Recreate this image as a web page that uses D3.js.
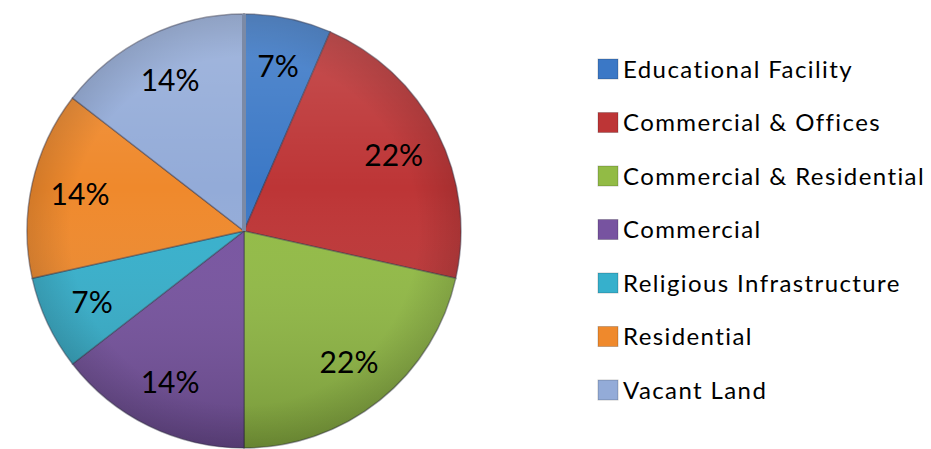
<!DOCTYPE html>
<html>
<head>
  <meta charset="utf-8">
  <title>Land use pie</title>
  <script src="https://d3js.org/d3.v7.min.js"></script>
  <style>
    body { margin: 0; background: #fff; }
    svg text { font-family: Lato, "Open Sans", sans-serif; font-variant-ligatures: none; }
  </style>
</head>
<body>
  <svg id="grafico"></svg>

  <script>
    // categories, shares and printed labels
    const categorias = [
      "Educational Facility",
      "Commercial & Offices",
      "Commercial & Residential",
      "Commercial",
      "Religious Infrastructure",
      "Residential",
      "Vacant Land"
    ];
    const valores = [6.5, 22, 21.5, 14.5, 7, 14, 14.5];
    const etiquetas = ["7%", "22%", "22%", "14%", "7%", "14%", "14%"];
    const colores = ["#3b78c6", "#bd3536", "#92bb45", "#7753a0", "#36b0cc", "#ef892c", "#93abd8"];

    const ancho = 931, alto = 449;
    const cx = 244, cy = 231, radio = 217;

    const svg = d3.select("#grafico")
      .attr("width", ancho)
      .attr("height", alto);

    const defs = svg.append("defs");
    const sombra = defs.append("linearGradient")
      .attr("id", "sombra")
      .attr("x1", 0).attr("y1", 0).attr("x2", 0).attr("y2", 1);
    sombra.append("stop").attr("offset", "0%").attr("stop-color", "#fff").attr("stop-opacity", 0.15);
    sombra.append("stop").attr("offset", "40%").attr("stop-color", "#fff").attr("stop-opacity", 0);
    sombra.append("stop").attr("offset", "100%").attr("stop-color", "#000").attr("stop-opacity", 0.2);

    const borde = defs.append("radialGradient").attr("id", "borde");
    borde.append("stop").attr("offset", "80%").attr("stop-color", "#000").attr("stop-opacity", 0);
    borde.append("stop").attr("offset", "100%").attr("stop-color", "#000").attr("stop-opacity", 0.12);

    const pie = d3.pie().sort(null).value(d => d)(valores);
    const arco = d3.arc().innerRadius(0).outerRadius(radio);
    const arcoEtiqueta = d3.arc().innerRadius(168).outerRadius(168);

    const g = svg.append("g").attr("transform", `translate(${cx},${cy})`);

    g.selectAll(".porcion")
      .data(pie)
      .enter()
      .append("path")
      .attr("class", "porcion")
      .attr("d", arco)
      .style("fill", (d, i) => colores[i])
      .style("stroke", "rgba(50,50,70,0.45)")
      .style("stroke-width", 1.5);

    g.append("circle").attr("r", radio).style("fill", "url(#sombra)");
    g.append("circle").attr("r", radio).style("fill", "url(#borde)");

    // grey seam at 12 o'clock
    g.append("line")
      .attr("x1", 0).attr("y1", 0)
      .attr("x2", 0).attr("y2", -radio)
      .style("stroke", "#7b8aa6")
      .style("stroke-width", 4);

    g.selectAll(".etiqueta")
      .data(pie)
      .enter()
      .append("text")
      .attr("class", "etiqueta")
      .attr("transform", d => `translate(${arcoEtiqueta.centroid(d)})`)
      .attr("text-anchor", "middle")
      .attr("dy", "0.36em")
      .style("font-size", "30px")
      .style("fill", "#000")
      .text((d, i) => etiquetas[i]);

    const leyenda = svg.append("g").attr("transform", "translate(598,69)");
    const y = d3.scalePoint().domain(categorias).range([0, 321]);

    const filas = leyenda.selectAll(".fila")
      .data(categorias)
      .enter()
      .append("g")
      .attr("class", "fila")
      .attr("transform", d => `translate(0,${y(d)})`);

    filas.append("rect")
      .attr("x", 0).attr("y", -10)
      .attr("width", 20).attr("height", 20)
      .style("fill", (d, i) => colores[i])
      .style("stroke", "rgba(0,0,0,0.2)");

    filas.append("text")
      .attr("x", 25)
      .attr("dy", "0.36em")
      .style("font-size", "24px")
      .style("letter-spacing", "1.4px")
      .style("fill", "#000")
      .text(d => d);
  </script>
</body>
</html>
